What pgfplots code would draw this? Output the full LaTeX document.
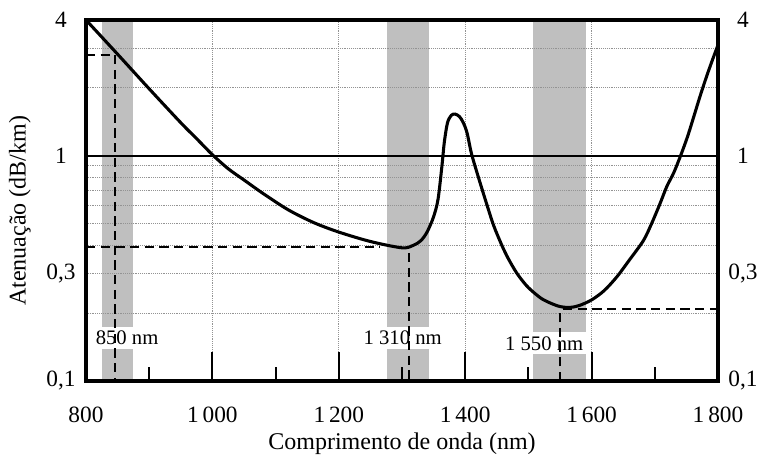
\documentclass[border=0pt]{standalone}
\usepackage{pgfplots}
\pgfplotsset{compat=1.18}
\usepackage{fontspec}
\setmainfont{Liberation Serif}
\begin{document}
\begin{tikzpicture}
\begin{axis}[name=ax, set layers, scale only axis, width=474pt, height=270.75pt,
  xmin=800, xmax=1800, ymode=log, ymin=0.1, ymax=4,
  axis line style={draw=none},
  xtick={800,1000,1200,1400,1600,1800},
  xticklabels={800,1\,000,1\,200,1\,400,1\,600,1\,800},
  minor xtick={900,1100,1300,1500,1700},
  xtick pos=bottom,
  major tick length=22pt, minor tick length=10.5pt,
  xtick style={line width=1.6pt, black},
  minor x tick style={line width=1.6pt, black},
  xmajorgrids,
  ytick={0.1,0.3,1,4}, yticklabels={{0,1},{0,3},1,4},
  minor ytick={0.2,0.3,0.4,0.5,0.6,0.7,0.8,0.9,2,3},
  yminorgrids,
  ytick style={draw=none}, minor y tick style={draw=none},
  major grid style={densely dotted, gray!85, line width=0.75pt},
  minor grid style={densely dotted, gray!85, line width=0.75pt},
  xticklabel style={font=\fontsize{17.5}{20}\selectfont, anchor=center, yshift=-25.5pt},
  yticklabel style={font=\fontsize{17.5}{20}\selectfont, anchor=center, xshift=-18.75pt},
  xlabel={Comprimento de onda (nm)},
  xlabel style={at={(axis description cs:0.5,-0.1745)}, anchor=center, font=\fontsize{18}{21}\selectfont},
  ylabel={Atenuação (dB/km)},
  ylabel style={at={(axis description cs:-0.1045,0.471)}, anchor=center, font=\fontsize{18}{21}\selectfont},
]
% transmission windows
\addplot[fill=gray!50, draw=none, on layer=axis background] coordinates {(825,0.1) (825,4) (874,4) (874,0.1)} -- cycle;
\addplot[fill=gray!50, draw=none, on layer=axis background] coordinates {(1277,0.1) (1277,4) (1343,4) (1343,0.1)} -- cycle;
\addplot[fill=gray!50, draw=none, on layer=axis background] coordinates {(1508,0.1) (1508,4) (1591,4) (1591,0.1)} -- cycle;
% 1 dB/km line
\addplot[black, line width=1.3pt] coordinates {(800,1) (1800,1)};
% attenuation curve
\addplot[black, line width=2.3pt, smooth, tension=0.5] coordinates {
(800,4.0) (850,2.82) (900,1.98) (950,1.40) (975,1.19) (1000,1.01)
(1025,0.875) (1050,0.78) (1080,0.68) (1120,0.575) (1160,0.505) (1200,0.458) (1250,0.416)
(1300,0.39) (1318,0.40) (1330,0.42)
(1340,0.46) (1350,0.536) (1357,0.64) (1363,0.89) (1367,1.15) (1372,1.40)
(1378,1.51) (1384,1.53) (1391,1.49) (1397,1.40) (1403,1.26)
(1410,1.02) (1421,0.80) (1434,0.61) (1445,0.49) (1458,0.40) (1468,0.35)
(1482,0.30) (1497,0.265) (1510,0.245) (1522,0.231) (1536,0.221) (1550,0.214)
(1565,0.212) (1580,0.216) (1600,0.229) (1620,0.252) (1640,0.29)
(1660,0.345) (1682,0.42) (1695,0.5) (1708,0.61) (1719,0.73) (1730,0.84)
(1742,1.02) (1752,1.22) (1762,1.5) (1772,1.85) (1782,2.25) (1791,2.65) (1800,3.1)
};
% labels
\node[fill=white, inner xsep=2pt, inner ysep=3pt, font=\fontsize{15.5}{18}\selectfont] at (axis cs:865,0.155) {850 nm};
\node[fill=white, inner xsep=2pt, inner ysep=3pt, font=\fontsize{15.5}{18}\selectfont] at (axis cs:1301,0.155) {1 310 nm};
\node[fill=white, inner xsep=2pt, inner ysep=3pt, font=\fontsize{15.5}{18}\selectfont] at (axis cs:1525,0.147) {1 550 nm};
% dashed markers
\addplot[black, line width=1.5pt, dash pattern=on 7pt off 4pt] coordinates {(800,2.8) (846,2.8) (846,0.1)};
\addplot[black, line width=1.5pt, dash pattern=on 7pt off 4pt] coordinates {(800,0.393) (1265,0.393)};
\addplot[black, line width=1.5pt, dash pattern=on 7pt off 4pt] coordinates {(1311,0.37) (1311,0.1)};
\addplot[black, line width=1.5pt, dash pattern=on 7pt off 4pt] coordinates {(1550,0.1) (1550,0.2)};
\addplot[black, line width=1.5pt, dash pattern=on 7pt off 4pt] coordinates {(1555,0.208) (1800,0.208)};
\end{axis}
\draw[black, line width=2.4pt] (ax.south west) rectangle (ax.north east);
\begin{axis}[scale only axis, width=474pt, height=270.75pt,
  xmin=800, xmax=1800, ymode=log, ymin=0.1, ymax=4,
  axis x line=none, axis y line*=right, y axis line style={draw=none},
  ytick={0.1,0.3,1,4}, yticklabels={{0,1},{0,3},1,4},
  ytick style={draw=none}, minor ytick={},
  yticklabel style={font=\fontsize{17.5}{20}\selectfont, anchor=center, xshift=18.75pt},
]
\end{axis}
\pgfresetboundingbox
\path ([shift={(-64.5pt,-58.5pt)}]ax.south west) rectangle ([shift={(32.25pt,15pt)}]ax.north east);
\end{tikzpicture}
\end{document}
